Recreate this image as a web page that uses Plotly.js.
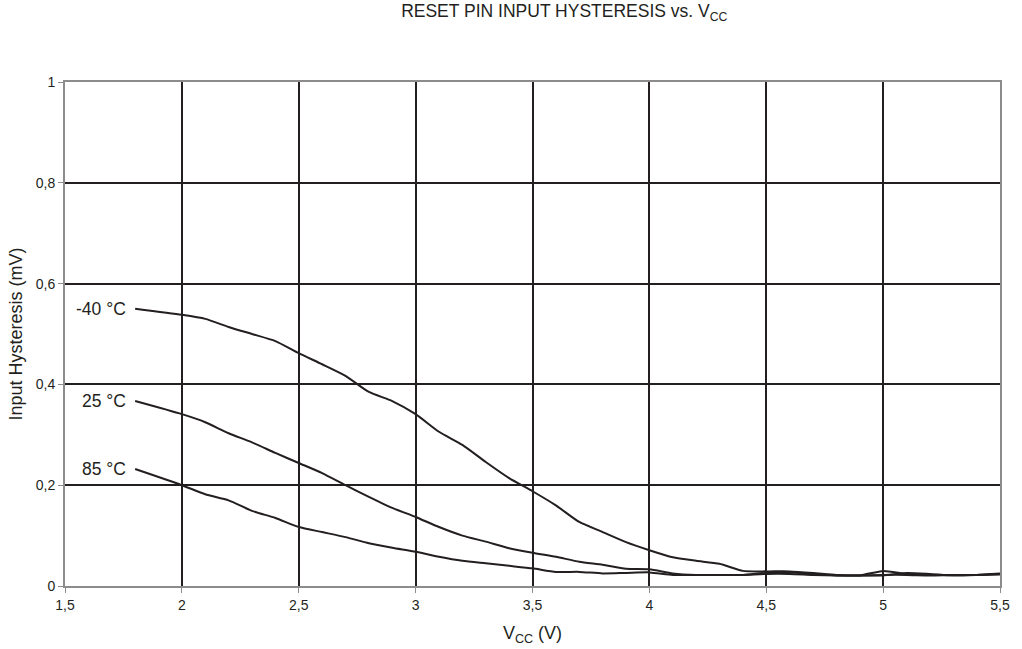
<!DOCTYPE html>
<html><head><meta charset="utf-8">
<script src="https://cdn.plot.ly/plotly-3.0.1.min.js"></script>
<style>html,body{margin:0;padding:0;background:#fff}#chart{width:1022px;height:649px}</style>
</head><body><div id="chart"></div>
<script>
const vcc = [1.8,2.0,2.1,2.2,2.3,2.4,2.5,2.6,2.7,2.8,2.9,3.0,3.1,3.2,3.3,3.4,3.5,3.6,3.7,3.8,3.9,4.0,4.1,4.2,4.3,4.4,4.5,4.6,4.7,4.8,4.9,5.0,5.1,5.2,5.3,5.4,5.5];
const hystM40 = [0.550,0.538,0.530,0.514,0.500,0.486,0.462,0.440,0.417,0.385,0.367,0.341,0.306,0.280,0.246,0.214,0.188,0.160,0.127,0.107,0.087,0.071,0.057,0.050,0.044,0.030,0.029,0.029,0.026,0.022,0.021,0.030,0.024,0.022,0.022,0.022,0.025];
const hyst25 = [0.367,0.341,0.325,0.303,0.285,0.264,0.244,0.224,0.200,0.177,0.155,0.137,0.117,0.100,0.088,0.075,0.066,0.058,0.048,0.042,0.034,0.033,0.025,0.022,0.022,0.022,0.026,0.027,0.024,0.021,0.021,0.021,0.026,0.024,0.021,0.022,0.024];
const hyst85 = [0.232,0.200,0.182,0.170,0.149,0.135,0.117,0.107,0.097,0.085,0.076,0.068,0.058,0.050,0.045,0.040,0.035,0.028,0.028,0.025,0.026,0.027,0.022,0.022,0.022,0.022,0.024,0.024,0.022,0.021,0.021,0.022,0.022,0.021,0.022,0.022,0.023];
const seriesNames = ['-40 °C','25 °C','85 °C'];
const xTicks = [1.5,2,2.5,3,3.5,4,4.5,5,5.5];
const yTicks = [0,0.2,0.4,0.6,0.8,1];

const lineStyle = {color:'#231f20', width:2, shape:'spline', smoothing:0.6};
const allY = [hystM40, hyst25, hyst85];
const traces = allY.map((y,i)=>({x:vcc, y:y, type:'scatter', mode:'lines', name:seriesNames[i], line:lineStyle, hoverinfo:'skip'}));

const annotations = allY.map((y,i)=>({x:1.77, y:y[0], xref:'x', yref:'y', text:seriesNames[i], showarrow:false, xanchor:'right', yanchor:'middle', font:{size:17.5, color:'#231f20'}}));

const layout = {
  width:1022, height:649,
  margin:{l:65, r:22, t:82, b:63},
  separators:',.',
  showlegend:false,
  paper_bgcolor:'#fff', plot_bgcolor:'#fff',
  font:{family:'Liberation Sans, Arial, sans-serif', color:'#231f20', size:14},
  title:{text:'RESET PIN INPUT HYSTERESIS vs. V<sub>CC</sub>', x:0.534, xref:'paper', xanchor:'center', yref:'container', y:0.992, yanchor:'top', font:{size:17.5}},
  xaxis:{range:[1.5,5.5], tickvals:xTicks, showgrid:true, gridcolor:'#231f20', gridwidth:2,
    showline:true, linecolor:'#8c8c8c', linewidth:2, mirror:true, zeroline:false,
    ticks:'outside', ticklen:5, tickcolor:'#8c8c8c', tickwidth:1, tickfont:{size:14},
    title:{text:'V<sub>CC</sub> (V)', font:{size:18}, standoff:15}},
  yaxis:{range:[0,1], tickvals:yTicks, showgrid:true, gridcolor:'#231f20', gridwidth:2,
    showline:true, linecolor:'#8c8c8c', linewidth:2, mirror:true, zeroline:false,
    ticks:'outside', ticklen:5, tickcolor:'#8c8c8c', tickwidth:1, tickfont:{size:14},
    title:{text:'Input Hysteresis (mV)', font:{size:18}, standoff:8}},
  annotations:annotations
};
Plotly.newPlot('chart', traces, layout, {staticPlot:true, displayModeBar:false});
</script></body></html>
